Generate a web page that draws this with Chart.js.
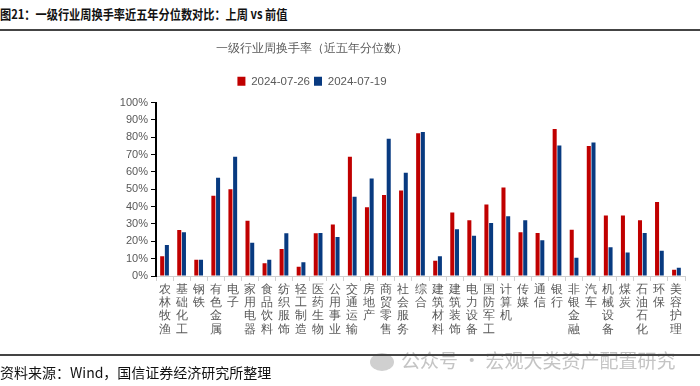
<!DOCTYPE html>
<html>
<head>
<meta charset="utf-8">
<script src="https://cdn.jsdelivr.net/npm/chart.js@4.4.1/dist/chart.umd.min.js"></script>
<style>
  html, body { margin: 0; padding: 0; background: #fff; }
  body { width: 700px; height: 386px; position: relative; overflow: hidden;
         font-family: "Noto Sans CJK SC", "Noto Sans", sans-serif; }
  #wrap { position: absolute; left: 0; top: 0; width: 700px; height: 386px; }
  .head { position: absolute; left: 0; top: 4px; font-size: 13px; font-weight: bold; color: #111;
          white-space: nowrap; transform: scaleX(0.86); transform-origin: left top; }
  .rule { position: absolute; left: 0; width: 700px; height: 1.5px; background: #444; }
  .foot { position: absolute; left: 0; top: 362px; font-size: 14px; color: #111; white-space: nowrap; }
  .mark { position: absolute; left: 401px; top: 346px; font-size: 19px; color: #c4c4c4; white-space: nowrap; }
  .dot { position: absolute; left: 370px; top: 353px; width: 24px; height: 18px; border-radius: 50%; background: #d0d0d0; }
</style>
</head>
<body>
<div class="head">图21：一级行业周换手率近五年分位数对比：上周 vs 前值</div>
<div class="rule" style="top:29px"></div>
<div id="wrap"><canvas id="chart" width="700" height="386"></canvas></div>
<div class="dot"></div>
<div class="mark">公众号 · 宏观大类资产配置研究</div>
<div class="rule" style="top:354px"></div>
<div class="foot">资料来源：Wind，国信证券经济研究所整理</div>

<script>
// industries (Shenwan level 1)
const categories = ["农林牧渔", "基础化工", "钢铁", "有色金属", "电子", "家用电器", "食品饮料", "纺织服饰",
  "轻工制造", "医药生物", "公用事业", "交通运输", "房地产", "商贸零售", "社会服务", "综合",
  "建筑材料", "建筑装饰", "电力设备", "国防军工", "计算机", "传媒", "通信", "银行",
  "非银金融", "汽车", "机械设备", "煤炭", "石油石化", "环保", "美容护理"];

// percentile of weekly turnover, %
const lastWeek = [11.4, 26.5, 9.3, 46.3, 50.1, 31.8, 7.4, 15.6, 5.3, 24.6, 29.7, 68.8, 39.6, 46.7, 49.3, 82.3,
  8.8, 36.6, 32.2, 41.3, 51.0, 25.3, 24.8, 84.8, 26.7, 74.9, 34.9, 34.9, 32.2, 42.7, 3.6];
const prevWeek = [17.9, 25.3, 9.3, 56.6, 68.8, 19.2, 9.3, 24.6, 8.0, 24.8, 22.5, 45.7, 56.2, 79.2, 59.6, 83.0,
  11.4, 27.0, 23.2, 30.5, 34.5, 32.2, 20.6, 75.2, 10.5, 77.0, 16.6, 13.5, 24.8, 14.5, 4.8];

const seriesNames = ["2024-07-26", "2024-07-19"];
const yTicks = [0, 10, 20, 30, 40, 50, 60, 70, 80, 90, 100];

const grey = "#595959";

// title + legend are centred on the left part of the page, not the full width
const shiftHeader = {
  id: "shiftHeader",
  afterLayout(chart) {
    [chart.titleBlock, chart.legend].forEach(b => {
      if (!b) return;
      b.left = 0;
      b.right = 624;
      b.width = 624;
    });
  }
};

new Chart(document.getElementById("chart"), {
  type: "bar",
  data: {
    labels: categories.map(s => s.split("")),
    datasets: [
      { label: seriesNames[0], data: lastWeek, backgroundColor: "#C00000" },
      { label: seriesNames[1], data: prevWeek, backgroundColor: "#083A80" }
    ]
  },
  options: {
    responsive: false,
    animation: false,
    datasets: { bar: { categoryPercentage: 0.55, barPercentage: 0.86 } },
    layout: { padding: { top: 41, right: 15, left: 0, bottom: 0 } },
    plugins: {
      title: {
        display: true,
        text: "一级行业周换手率（近五年分位数）",
        color: grey,
        font: { size: 12, weight: "normal", lineHeight: 1.3 },
        padding: { top: 0, bottom: 15 }
      },
      subtitle: { // spacer between legend and plot
        display: true,
        text: "",
        weight: 500,
        font: { size: 1, lineHeight: 1 },
        padding: { top: 0, bottom: 4.5 }
      },
      legend: {
        position: "top",
        labels: { boxWidth: 8, boxHeight: 9, padding: 4, color: grey, font: { size: 11.5 } }
      },
      tooltip: { enabled: false }
    },
    scales: {
      x: {
        afterFit: s => { s.height = 110; },
        grid: { offset: true, drawOnChartArea: false, tickLength: 5, color: "#d0d0d0" },
        border: { color: "#d0d0d0" },
        ticks: { color: grey, maxRotation: 0, autoSkip: false, padding: 2,
                 font: { size: 11.5, lineHeight: "13.3px" } }
      },
      y: {
        min: 0,
        max: 100,
        afterFit: s => { s.width = 156; },
        afterBuildTicks: s => { s.ticks = yTicks.map(v => ({ value: v })); },
        grid: { drawOnChartArea: false, tickLength: 5, color: "#000" },
        border: { color: "#000", width: 2 },
        ticks: { color: grey, padding: 3, font: { size: 11 }, callback: v => v + "%" }
      }
    }
  },
  plugins: [shiftHeader]
});
</script>
</body>
</html>
